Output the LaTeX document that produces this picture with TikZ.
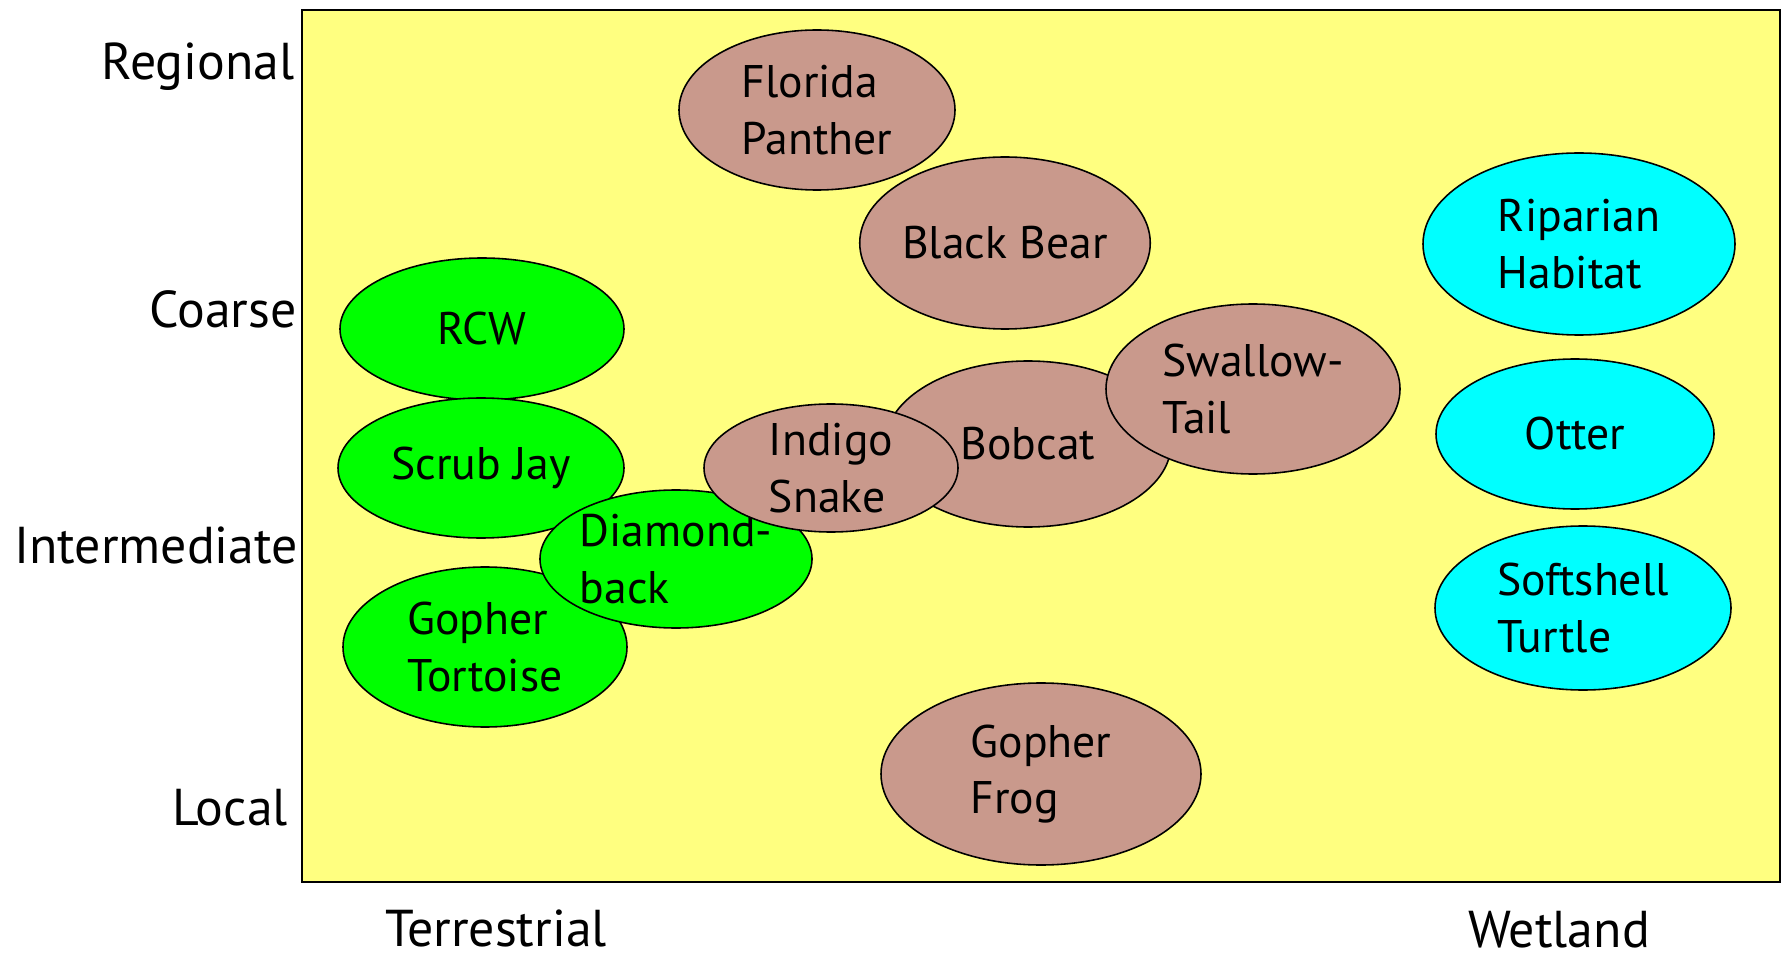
\documentclass[tikz,border=0pt]{standalone}
\usepackage{fontspec}
\setmainfont{PT Sans}
\usetikzlibrary{shapes.geometric}
\definecolor{bgyellow}{RGB}{255,255,128}
\definecolor{sgreen}{RGB}{0,255,0}
\definecolor{scyan}{RGB}{0,255,255}
\definecolor{sbrown}{RGB}{201,153,140}
\tikzset{
  sp/.style={ellipse, draw=black, line width=0.9pt, inner sep=0pt, align=left,
    font=\fontsize{26}{32}\selectfont},
  es/.style 2 args={minimum width=#1*0.02cm, minimum height=#2*0.02cm},
  terr/.style={sp, fill=sgreen},
  wet/.style={sp, fill=scyan},
  both/.style={sp, fill=sbrown},
  axislab/.style={font=\fontsize{29.5}{32}\selectfont, inner sep=0pt}
}
\begin{document}
\begin{tikzpicture}[x=0.02cm, y=-0.02cm]
\useasboundingbox (0,0) rectangle (1789,959);
\fill[white] (0,0) rectangle (1789,959);
\draw[fill=bgyellow, line width=1.2pt] (302,10) rectangle (1780,882);
% axis labels
\node[axislab] (regional) at (198,67) {Regional};
\node[axislab] (coarse) at (223,309) {Coarse};
\node[axislab] (intermediate) at (156,545) {Intermediate};
\node[axislab] (local) at (230,808) {Local};
\node[axislab] (terrestrial) at (496,928) {Terrestrial};
\node[axislab] (wetland) at (1559,930) {Wetland};
% species
\node[terr, es={284}{142}] (rcw) at (482,329) {RCW};
\node[terr, es={286}{140}] (scrubjay) at (481,468) {Scrub Jay};
\node[terr, es={284}{160}] (tortoise) at (485,647) {Gopher\\Tortoise};
\node[terr, es={258}{138}] (diamondback) at (676,559) {Diamond-\\back};
\node[both, es={286}{166}] (bobcat) at (1028,444) {Bobcat};
\node[both, es={294}{170}] (swallowtail) at (1253,389) {Swallow-\\Tail};
\node[both, es={254}{128}] (indigo) at (831,468) {Indigo\\Snake};
\node[both, es={276}{160}] (panther) at (817,110) {Florida\\Panther};
\node[both, es={286}{172}] (blackbear) at (1005,243) {Black Bear};
\node[both, es={320}{182}] (frog) at (1041,774) {Gopher\\Frog};
\node[wet, es={312}{182}] (riparian) at (1579,244) {Riparian\\Habitat};
\node[wet, es={278}{150}] (otter) at (1575,434) {Otter};
\node[wet, es={296}{164}] (softshell) at (1583,608) {Softshell\\Turtle};
\end{tikzpicture}
\end{document}
